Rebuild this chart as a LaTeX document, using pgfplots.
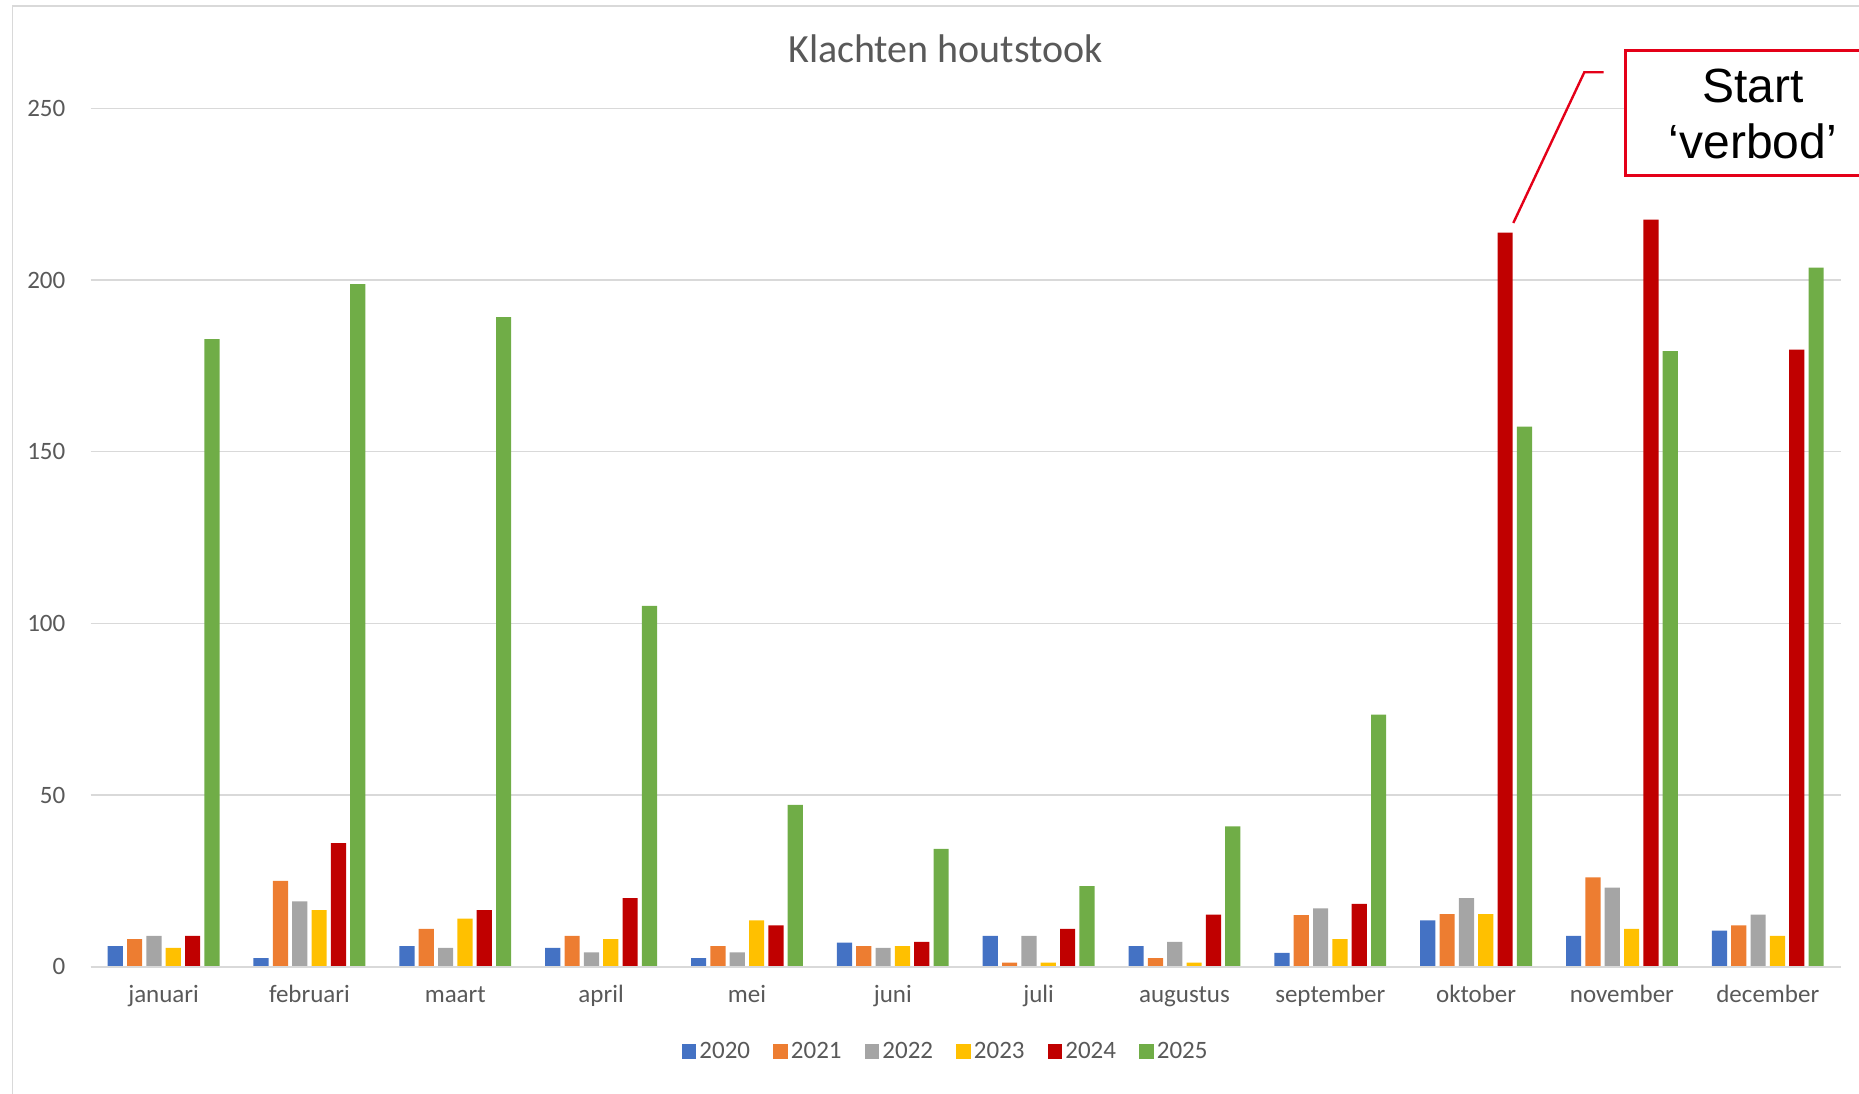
\documentclass[border=0pt]{standalone}
\usepackage{fontspec}
\setmainfont{Carlito}
\newfontfamily\arial{Liberation Sans}
\usepackage{pgfplots}
\pgfplotsset{compat=1.18}
\definecolor{c2020}{HTML}{4472C4}
\definecolor{c2021}{HTML}{ED7D31}
\definecolor{c2022}{HTML}{A5A5A5}
\definecolor{c2023}{HTML}{FFC000}
\definecolor{c2024}{HTML}{C00000}
\definecolor{c2025}{HTML}{70AD47}
\definecolor{gridc}{HTML}{D9D9D9}
\definecolor{txt}{HTML}{595959}
\definecolor{callred}{RGB}{228,0,24}
\begin{document}
\begin{tikzpicture}
\useasboundingbox (-45.35pt,-63.15pt) rectangle (884.15pt,483.35pt);
\draw[gridc, line width=0.8pt] (-39pt,-70pt) -- (-39pt,480.35pt) -- (900pt,480.35pt);
\begin{axis}[
  at={(0pt,0pt)}, anchor=south west,
  scale only axis, width=875pt, height=429.2pt,
  xmin=-0.5, xmax=11.5, ymin=0, ymax=250,
  ybar=2.07pt, bar width=7.6pt,
  axis line style={draw=none},
  axis x line*=bottom,
  xtick={0,...,11},
  xticklabels={januari,februari,maart,april,mei,juni,juli,augustus,september,oktober,november,december},
  ytick={0,50,100,150,200,250},
  major tick length=0pt,
  ymajorgrids, grid style={gridc, line width=0.75pt},
  tick label style={font=\fontsize{12.5}{15}\selectfont, text=txt},
  /pgf/number format/assume math mode=true,
  xticklabel style={anchor=base, yshift=-18pt},
  yticklabel style={anchor=east, inner sep=0pt, xshift=-12.5pt},
  clip=false,
  legend columns=6,
  legend style={draw=none, at={(0.4888,-0.099)}, anchor=center,
    font=\fontsize{12.5}{15}\selectfont, text=txt,
    /tikz/every even column/.append style={column sep=10pt},
    nodes={inner sep=1.5pt}},
  legend image code/.code={\fill[#1] (0pt,-3.7pt) rectangle (7.4pt,3.7pt);},
]
\addplot[fill=c2020, draw=none] coordinates {(0,6) (1,2.5) (2,6) (3,5.5) (4,2.5) (5,7) (6,9) (7,6) (8,4) (9,13.5) (10,9) (11,10.5)};
\addplot[fill=c2021, draw=none] coordinates {(0,8) (1,25) (2,11) (3,9) (4,6) (5,6) (6,1.2) (7,2.5) (8,15) (9,15.3) (10,26) (11,12)};
\addplot[fill=c2022, draw=none] coordinates {(0,9) (1,19) (2,5.5) (3,4.2) (4,4.2) (5,5.5) (6,9) (7,7.2) (8,17) (9,20) (10,23) (11,15.2)};
\addplot[fill=c2023, draw=none] coordinates {(0,5.5) (1,16.5) (2,14) (3,8) (4,13.5) (5,6) (6,1.2) (7,1.2) (8,8) (9,15.3) (10,11) (11,9)};
\addplot[fill=c2024, draw=none] coordinates {(0,9) (1,36) (2,16.5) (3,20) (4,12) (5,7.2) (6,11) (7,15.2) (8,18.3) (9,213.8) (10,217.6) (11,179.7)};
\addplot[fill=c2025, draw=none] coordinates {(0,182.8) (1,198.8) (2,189.2) (3,105.1) (4,47.1) (5,34.3) (6,23.5) (7,40.9) (8,73.4) (9,157.3) (10,179.3) (11,203.6)};
\legend{2020,2021,2022,2023,2024,2025}
\draw[gridc, line width=0.9pt] (axis cs:-0.5,0) -- (axis cs:11.5,0);
\node[anchor=base, yshift=22.65pt, font=\fontsize{20}{24}\selectfont, text=txt] at (rel axis cs:0.4885,1) {Klachten houtstook};
\draw[callred, line width=1.2pt] (axis cs:9.255,216.6) -- (axis cs:9.742,260.5) -- (axis cs:9.874,260.5);
\draw[callred, line width=1.5pt, fill=white] (axis cs:10.023,230.3) rectangle (axis cs:12.6,266.9);
\node[anchor=base, font=\arial\fontsize{24}{28}\selectfont] at (axis cs:10.898,251.6) {Start};
\node[anchor=base, font=\arial\fontsize{24}{28}\selectfont] at (axis cs:10.898,235.5) {‘verbod’};
\end{axis}
\end{tikzpicture}
\end{document}
